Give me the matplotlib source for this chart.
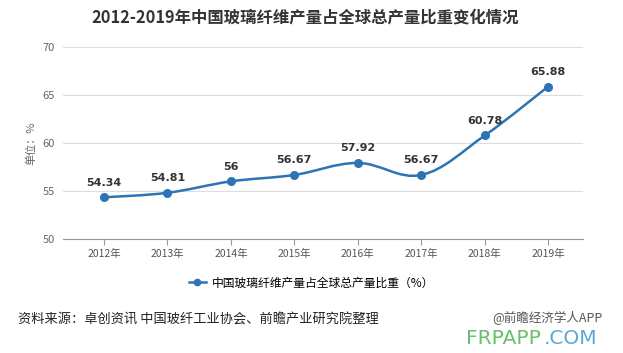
import matplotlib.pyplot as plt
import numpy as np
from matplotlib.path import Path
from matplotlib.patches import PathPatch
from matplotlib.lines import Line2D

plt.rcParams['font.family'] = ['Noto Sans CJK SC', 'DejaVu Sans']

years = ['2012年', '2013年', '2014年', '2015年', '2016年', '2017年', '2018年', '2019年']
share = [54.34, 54.81, 56, 56.67, 57.92, 56.67, 60.78, 65.88]
labels = ['54.34', '54.81', '56', '56.67', '57.92', '56.67', '60.78', '65.88']

line_color = '#2c74b3'

fig = plt.figure(figsize=(6.23, 3.53), dpi=100)
ax = fig.add_axes([0.101, 0.323, 0.835, 0.544])

x = np.arange(len(share))
y = np.array(share, dtype=float)

# smooth curve through the points (Catmull-Rom -> Bezier)
verts = [(x[0], y[0])]
codes = [Path.MOVETO]
t = 0.18
for i in range(len(x) - 1):
    x0, y0 = (x[i - 1], y[i - 1]) if i > 0 else (x[i], y[i])
    x3, y3 = (x[i + 2], y[i + 2]) if i + 2 < len(x) else (x[i + 1], y[i + 1])
    c1 = (x[i] + (x[i + 1] - x0) * t, y[i] + (y[i + 1] - y0) * t)
    c2 = (x[i + 1] - (x3 - x[i]) * t, y[i + 1] - (y3 - y[i]) * t)
    verts += [c1, c2, (x[i + 1], y[i + 1])]
    codes += [Path.CURVE4] * 3
ax.add_patch(PathPatch(Path(verts, codes), fill=False, edgecolor=line_color, lw=1.8, zorder=3))
ax.scatter(x, y, s=30, color=line_color, zorder=4)

for xi, yi, lab in zip(x, y, labels):
    ax.text(xi, yi + 1.0, lab, ha='center', va='bottom', fontsize=8, fontweight='bold',
            color='#333333', family='DejaVu Sans')

ax.set_xlim(-0.646, 7.55)
ax.set_ylim(50, 70)
ax.set_yticks([50, 55, 60, 65, 70])
ax.set_xticks(x)
ax.set_xticklabels(years)
ax.tick_params(axis='y', length=0, labelsize=8, colors='#666666', pad=6)
ax.tick_params(axis='x', length=4, labelsize=7.5, colors='#999999', labelcolor='#555555', pad=3)
ax.grid(axis='y', color='#dddddd', lw=0.8)
ax.set_axisbelow(True)
for s in ['top', 'right', 'left']:
    ax.spines[s].set_visible(False)
ax.spines['bottom'].set_color('#999999')
ax.set_ylabel('单位：%', fontsize=8, color='#666666', labelpad=4)

fig.text(0.49, 0.95, '2012-2019年中国玻璃纤维产量占全球总产量比重变化情况', ha='center', va='center',
         fontsize=11.8, fontweight='bold', color='#333333')

handle = Line2D([], [], color=line_color, lw=1.8, marker='o', markersize=4.5)
fig.legend([handle], ['中国玻璃纤维产量占全球总产量比重（%）'], loc='center', bbox_to_anchor=(0.5, 0.198),
           frameon=False, fontsize=8.5, handlelength=1.5, handletextpad=0.5)

fig.text(0.029, 0.094, '资料来源：卓创资讯 中国玻纤工业协会、前瞻产业研究院整理', ha='left', va='center',
         fontsize=9.5, color='#222222')
fig.text(0.967, 0.1, '@前瞻经济学人APP', ha='right', va='center', fontsize=9, color='#555555')
fig.text(0.748, 0.042, 'FRPAPP', ha='left', va='center', fontsize=14.5, color='#6abf69', family='DejaVu Sans')
fig.text(0.873, 0.042, '.COM', ha='left', va='center', fontsize=14.5, color='#5aa9d6', family='DejaVu Sans')

fig.savefig('out.png', dpi=100)
